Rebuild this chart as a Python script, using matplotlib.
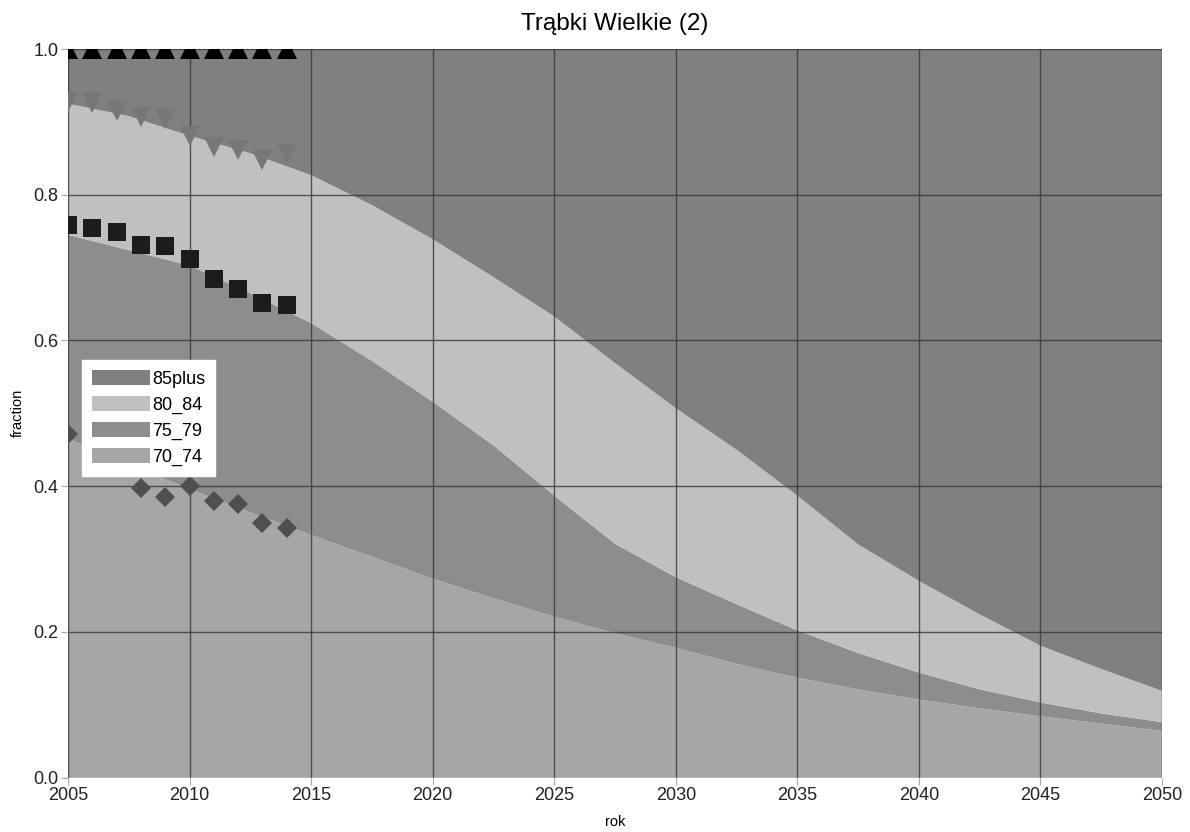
import numpy as np
import matplotlib
matplotlib.use("Agg")
import matplotlib.pyplot as plt

plt.rcParams['font.family'] = ['Liberation Sans', 'DejaVu Sans']

# projection (stacked fractions per age group)
years = [2005, 2007.5, 2010, 2012.5, 2015, 2017.5, 2020, 2022.5, 2025, 2027.5,
         2030, 2032.5, 2035, 2037.5, 2040, 2042.5, 2045, 2047.5, 2050]
g70_74 = [0.465, 0.430, 0.396, 0.364, 0.333, 0.303, 0.273, 0.246, 0.221, 0.198,
          0.178, 0.156, 0.137, 0.121, 0.107, 0.095, 0.084, 0.074, 0.064]
g75_79 = [0.280, 0.294, 0.307, 0.301, 0.291, 0.269, 0.243, 0.210, 0.166, 0.123,
          0.097, 0.082, 0.065, 0.050, 0.037, 0.026, 0.019, 0.014, 0.012]
g80_84 = [0.180, 0.184, 0.178, 0.192, 0.203, 0.214, 0.223, 0.231, 0.246, 0.248,
          0.232, 0.212, 0.185, 0.149, 0.126, 0.103, 0.078, 0.061, 0.043]
g85plus = [0.075, 0.092, 0.119, 0.143, 0.173, 0.214, 0.261, 0.313, 0.367, 0.431,
           0.493, 0.550, 0.613, 0.680, 0.730, 0.776, 0.819, 0.851, 0.881]

# observed cumulative fractions
obs_years = [2005, 2006, 2007, 2008, 2009, 2010, 2011, 2012, 2013, 2014]
obs_85plus = [1.0, 1.0, 1.0, 1.0, 1.0, 1.0, 1.0, 1.0, 1.0, 1.0]
obs_80_84 = [0.928, 0.926, 0.915, 0.907, 0.904, 0.880, 0.865, 0.861, 0.848, 0.856]
obs_75_79 = [0.758, 0.755, 0.749, 0.731, 0.729, 0.712, 0.684, 0.671, 0.652, 0.648]
obs_70_74 = [0.471, 0.455, 0.440, 0.397, 0.385, 0.400, 0.380, 0.375, 0.349, 0.343]

fig = plt.figure(figsize=(11.9, 8.32), dpi=100)
ax = fig.add_axes([0.0571, 0.0655, 0.9194, 0.8755])

polys = ax.stackplot(years, g70_74, g75_79, g80_84, g85plus,
                     colors=['#a6a6a6', '#8d8d8d', '#c0c0c0', '#808080'],
                     linewidth=0, zorder=1)

ax.plot(obs_years, obs_85plus, ls='none', marker='^', ms=15, color='black', mew=0, zorder=4)
ax.plot(obs_years, obs_80_84, ls='none', marker='v', ms=15, color='#777777', mew=0, zorder=4)
ax.plot(obs_years, obs_75_79, ls='none', marker='s', ms=13, color='#1c1c1c', mew=0, zorder=4)
ax.plot(obs_years, obs_70_74, ls='none', marker='D', ms=10, color='#4f4f4f', mew=0, zorder=4)

ax.set_xlim(2005, 2050)
ax.set_ylim(0, 1)
ax.set_xticks(range(2005, 2051, 5))
ax.set_yticks(np.arange(0, 1.01, 0.2))
ax.set_yticklabels([f'{v:.1f}' for v in np.arange(0, 1.01, 0.2)])
ax.set_axisbelow(False)
ax.grid(True, color='#363636', lw=1, alpha=0.8, zorder=3)
for s in ax.spines.values():
    s.set_visible(False)
ax.tick_params(length=5, color='#aaaaaa', labelsize=13, labelcolor='#222222', pad=2)

ax.set_title('Trąbki Wielkie (2)', fontsize=17.5, pad=14)
ax.set_xlabel('rok', fontsize=10.5, labelpad=8)
ax.set_ylabel('fraction', fontsize=10.5, labelpad=6)

handles = [polys[3], polys[2], polys[1], polys[0]]
labels = ['85plus', '80_84', '75_79', '70_74']
leg = ax.legend(handles, labels, loc='upper left', bbox_to_anchor=(0.0128, 0.573),
                fontsize=13, frameon=True, fancybox=False, framealpha=1,
                edgecolor='white', handlelength=3.2, handleheight=0.9,
                labelspacing=0.45, handletextpad=0.12, borderpad=0.55, borderaxespad=0)
leg.set_zorder(10)

fig.savefig('out.png', dpi=100)
